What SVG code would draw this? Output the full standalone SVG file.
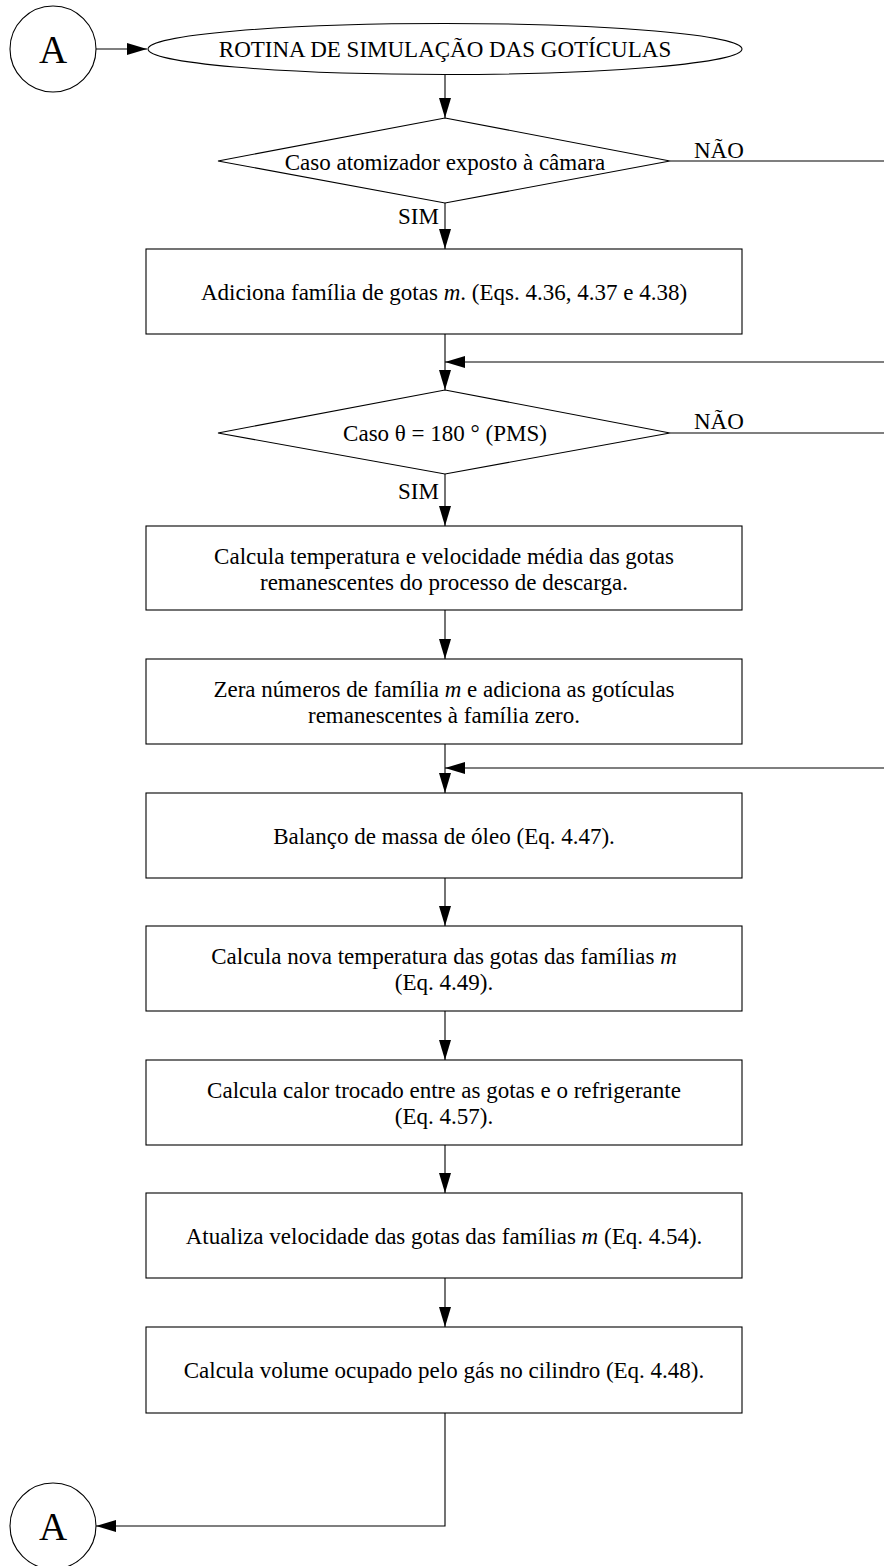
<svg xmlns="http://www.w3.org/2000/svg" width="884" height="1566" viewBox="0 0 884 1566">
<style>
.s{fill:#fff;stroke:#000;stroke-width:1.1}
.t{font-family:"Liberation Serif","Times New Roman",serif;font-size:23px;fill:#000;text-anchor:middle}
.big{font-family:"Liberation Serif","Times New Roman",serif;font-size:39px;fill:#000;text-anchor:middle}
.l{font-family:"Liberation Serif","Times New Roman",serif;font-size:23px;fill:#000}
.c{fill:none;stroke:#000;stroke-width:1.1}
</style>
<defs>
<marker id="ah" markerUnits="userSpaceOnUse" markerWidth="20" markerHeight="12" refX="20" refY="6" orient="auto">
<path d="M0,0 L20,6 L0,12 z" fill="#000"/>
</marker>
</defs>
<rect width="884" height="1566" fill="#fff"/>
<g id="connectors">
<line class="c" x1="96" y1="49" x2="147" y2="49" marker-end="url(#ah)"/>
<line class="c" x1="445" y1="74" x2="445" y2="118" marker-end="url(#ah)"/>
<line class="c" x1="445" y1="203" x2="445" y2="249" marker-end="url(#ah)"/>
<line class="c" x1="670" y1="161" x2="884" y2="161"/>
<line class="c" x1="445" y1="334" x2="445" y2="390" marker-end="url(#ah)"/>
<line class="c" x1="884" y1="362" x2="445" y2="362" marker-end="url(#ah)"/>
<line class="c" x1="670" y1="433" x2="884" y2="433"/>
<line class="c" x1="445" y1="474" x2="445" y2="526" marker-end="url(#ah)"/>
<line class="c" x1="445" y1="610" x2="445" y2="659" marker-end="url(#ah)"/>
<line class="c" x1="445" y1="744" x2="445" y2="793" marker-end="url(#ah)"/>
<line class="c" x1="884" y1="768" x2="445" y2="768" marker-end="url(#ah)"/>
<line class="c" x1="445" y1="878" x2="445" y2="926" marker-end="url(#ah)"/>
<line class="c" x1="445" y1="1011" x2="445" y2="1060" marker-end="url(#ah)"/>
<line class="c" x1="445" y1="1145" x2="445" y2="1193" marker-end="url(#ah)"/>
<line class="c" x1="445" y1="1278" x2="445" y2="1327" marker-end="url(#ah)"/>
<polyline class="c" points="445,1413 445,1526 96,1526" marker-end="url(#ah)"/>
<text class="l" x="694" y="158">NÃO</text>
<text class="l" x="694" y="429">NÃO</text>
<text class="l" x="398" y="224">SIM</text>
<text class="l" x="398" y="499">SIM</text>
</g>
<g id="startA">
<circle class="s" cx="53" cy="49" r="43"/>
<text class="big" x="53" y="63">A</text>
</g>
<g id="start">
<ellipse class="s" cx="445" cy="49" rx="297" ry="25.5"/>
<text class="t" x="445" y="57">ROTINA DE SIMULAÇÃO DAS GOTÍCULAS</text>
</g>
<g id="dec1">
<polygon class="s" points="445,118 670,161 445,203 218,161"/>
<text class="t" x="445" y="170">Caso atomizador exposto à câmara</text>
</g>
<g id="box1">
<rect class="s" x="146" y="249" width="596" height="85"/>
<text class="t" x="444" y="300">Adiciona família de gotas <tspan font-style="italic">m</tspan>. (Eqs. 4.36, 4.37 e 4.38)</text>
</g>
<g id="dec2">
<polygon class="s" points="445,390 670,433 445,474 218,433"/>
<text class="t" x="445" y="441">Caso θ = 180 ° (PMS)</text>
</g>
<g id="box2">
<rect class="s" x="146" y="526" width="596" height="84"/>
<text class="t" x="444" y="564">Calcula temperatura e velocidade média das gotas</text>
<text class="t" x="444" y="590">remanescentes do processo de descarga.</text>
</g>
<g id="box3">
<rect class="s" x="146" y="659" width="596" height="85"/>
<text class="t" x="444" y="697">Zera números de família <tspan font-style="italic">m</tspan> e adiciona as gotículas</text>
<text class="t" x="444" y="723">remanescentes à família zero.</text>
</g>
<g id="box4">
<rect class="s" x="146" y="793" width="596" height="85"/>
<text class="t" x="444" y="844">Balanço de massa de óleo (Eq. 4.47).</text>
</g>
<g id="box5">
<rect class="s" x="146" y="926" width="596" height="85"/>
<text class="t" x="444" y="964">Calcula nova temperatura das gotas das famílias <tspan font-style="italic">m</tspan></text>
<text class="t" x="444" y="990">(Eq. 4.49).</text>
</g>
<g id="box6">
<rect class="s" x="146" y="1060" width="596" height="85"/>
<text class="t" x="444" y="1098">Calcula calor trocado entre as gotas e o refrigerante</text>
<text class="t" x="444" y="1124">(Eq. 4.57).</text>
</g>
<g id="box7">
<rect class="s" x="146" y="1193" width="596" height="85"/>
<text class="t" x="444" y="1244">Atualiza velocidade das gotas das famílias <tspan font-style="italic">m</tspan> (Eq. 4.54).</text>
</g>
<g id="box8">
<rect class="s" x="146" y="1327" width="596" height="86"/>
<text class="t" x="444" y="1378">Calcula volume ocupado pelo gás no cilindro (Eq. 4.48).</text>
</g>
<g id="endA">
<circle class="s" cx="53" cy="1526" r="43"/>
<text class="big" x="53" y="1540">A</text>
</g>
</svg>
